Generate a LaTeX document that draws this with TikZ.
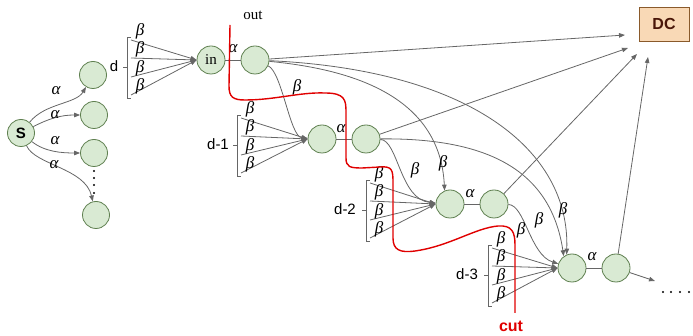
\documentclass[tikz,border=0pt]{standalone}
\usepackage{fontspec}
\setmainfont{Liberation Serif}
\setsansfont{Liberation Sans}
\usetikzlibrary{arrows.meta,calc}
\definecolor{lgreen}{HTML}{D9EAD3}
\definecolor{ngreen}{HTML}{5E7F4F}
\definecolor{egray}{HTML}{666666}
\definecolor{dcfill}{HTML}{F9D9B6}
\definecolor{dcdraw}{HTML}{8A5A2B}
\definecolor{dctext}{HTML}{4A1608}
\definecolor{cutred}{HTML}{E00000}
\newcommand{\alp}{α}
\newcommand{\bet}{β}
\tikzset{
  vert/.style={circle, draw=ngreen, fill=lgreen, minimum size=28pt, inner sep=0pt, line width=0.8pt},
  edge/.style={draw=egray, line width=0.8pt},
  arr/.style={edge, -{Triangle[length=6pt,width=4.5pt]}},
  brk/.style={draw=egray, line width=0.75pt},
  mlab/.style={font=\itshape\fontsize{17}{17}\selectfont, inner sep=0pt},
  dlab/.style={font=\sffamily\fontsize{15}{15}\selectfont, inner sep=0pt},
  dcbox/.style={draw=dcdraw, fill=dcfill, line width=0.8pt, minimum width=50pt, minimum height=34pt, inner sep=0pt, text=dctext, font=\sffamily\bfseries\fontsize{16}{16}\selectfont},
  cutline/.style={draw=cutred, line width=1.4pt},
  dot/.style={circle, fill=black, inner sep=0pt, minimum size=2.2pt}
}
\begin{document}
\begin{tikzpicture}[x=1pt,y=-1pt]
\useasboundingbox (0,0) rectangle (693,336);

% nodes
\node[vert, minimum size=27pt] (S) at (21,133) {\sffamily\bfseries\fontsize{15}{15}\selectfont S};
\node[vert, minimum size=27pt] (L1) at (93,75) {};
\node[vert, minimum size=27pt] (L2) at (94,115) {};
\node[vert, minimum size=27pt] (L3) at (94,153) {};
\node[vert, minimum size=27pt] (L4) at (96,215) {};
\node[vert] (in) at (211,60) {\fontsize{15}{15}\selectfont in};
\node[vert] (O) at (255,60) {};
\node[vert] (A1) at (322,139) {};
\node[vert] (B1) at (366,139) {};
\node[vert] (A2) at (450,204) {};
\node[vert] (B2) at (494,204) {};
\node[vert] (A3) at (572,268) {};
\node[vert] (B3) at (616,268) {};
\node[dcbox] (DC) at (664,24) {DC};

% dots below left column
\foreach \i/\yy in {1/171,2/178,3/185,4/193} \node[dot] (vd\i) at (94,\yy) {};
% trailing dots
\foreach \i/\xx in {1/663,2/671,3/680,4/689} \node[dot] (hd\i) at (\xx,292) {};

% S edges
\draw[arr] (S) .. controls (45,103) and (76,104) .. (L1);
\node[mlab] (aS1) at (56,91) {\alp};
\draw[arr] (S) .. controls (50,118) and (62,115) .. (L2);
\node[mlab] (aS2) at (55,115) {\alp};
\draw[arr] (S) .. controls (45,152) and (62,153) .. (L3);
\node[mlab] (aS3) at (55,141) {\alp};
\draw[arr] (S) .. controls (35,165) and (85,168) .. (L4);
\node[mlab] (aS4) at (54,165) {\alp};

% brackets and fans
\foreach \lv/\bx/\ty/\tg/\lx/\txt in {a/127/37/in/114/d, b/237/115/A1/218/d-1, c/366/180/A2/345/d-2, d/488/245/A3/467/d-3}{
  \draw[brk] (\bx+4,\ty) -- (\bx,\ty) -- (\bx,\ty+61) -- (\bx+4,\ty+61);
  \draw[brk] (\bx-4,\ty+30) -- (\bx,\ty+30);
  \node[dlab] (lab\lv) at (\lx,\ty+29) {\txt};
  \foreach \k/\o in {1/3,2/21,3/40,4/58}{
    \coordinate (f\lv\k) at (\bx+4,\ty+\o);
    \draw[arr] (f\lv\k) -- (\tg.west);
    \node[mlab] (b\lv\k) at (\bx+13,\ty+\o-9) {\bet};
  }
}

% alpha links
\draw[edge] (in) -- (O);
\node[mlab] (aO) at (233,49) {\alp};
\draw[edge] (A1) -- (B1);
\node[mlab] (a1) at (341,129) {\alp};
\draw[edge] (A2) -- (B2);
\node[mlab] (a2) at (470,194) {\alp};
\draw[edge] (A3) -- (B3);
\node[mlab] (a3) at (592,257) {\alp};

% edges to DC
\coordinate (dc1) at (625,35);
\coordinate (dc2) at (628,48);
\coordinate (dc3) at (637,54);
\coordinate (dc4) at (648,57);
\draw[arr] (O) -- (dc1);
\draw[arr] (B1) -- (dc2);
\draw[arr] (B2) -- (dc3);
\draw[arr] (B3) -- (dc4);

% beta curves
\draw[arr] (O) .. controls (282,72) and (290,137) .. (A1);
\node[mlab] (bO1) at (297,87) {\bet};
\draw[arr] (O) .. controls (360,70) and (440,100) .. (A2.112);
\node[mlab] (bO2) at (443,163) {\bet};
\draw[arr] (O) .. controls (470,70) and (570,150) .. (A3.112);
\node[mlab] (bO3) at (563,210) {\bet};
\draw[arr] (B1) .. controls (398,140) and (400,200) .. (A2);
\node[mlab] (b12) at (415,170) {\bet};
\draw[arr] (B1) .. controls (480,138) and (550,165) .. (A3.125);
\node[mlab] (b13) at (539,220) {\bet};
\draw[arr] (B2) .. controls (525,205) and (530,255) .. (A3);
\node[mlab] (b23) at (521,230) {\bet};

% continuation
\coordinate (cont) at (655,281);
\draw[arr] (B3) -- (cont);

% cut
\draw[cutline] (230,25) -- (229,86) .. controls (229,97) and (233,100) .. (245,100)
  .. controls (275,100) and (300,92) .. (325,93) .. controls (345,93) and (346,100) .. (346,112)
  -- (346,158) .. controls (346,167) and (350,168) .. (362,168) -- (380,167)
  .. controls (392,166) and (393,170) .. (393,182) -- (393,238)
  .. controls (393,250) and (400,253) .. (415,251) .. controls (450,246) and (475,228) .. (498,226)
  .. controls (512,225) and (515,232) .. (515,245) -- (515,313);
\node[font=\fontsize{15}{15}\selectfont, inner sep=0pt] (outl) at (253,15) {out};
\node[font=\sffamily\bfseries\fontsize{16}{16}\selectfont, text=cutred, inner sep=0pt] (cutl) at (511,326) {cut};
\end{tikzpicture}
\end{document}
